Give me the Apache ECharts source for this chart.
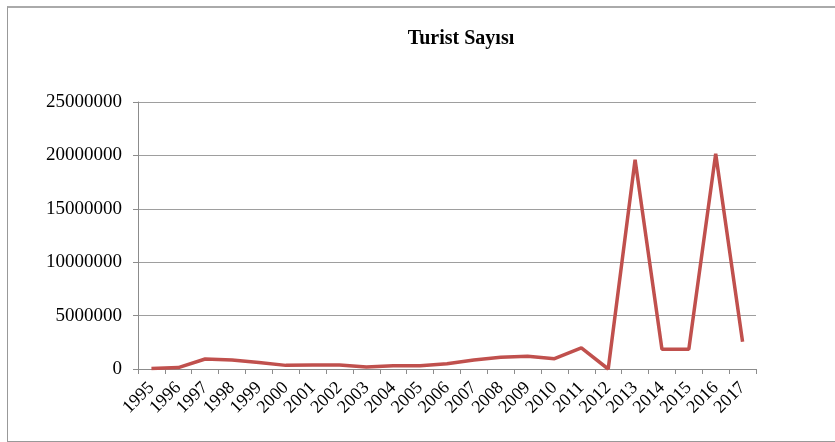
<!DOCTYPE html>
<html>
<head>
<meta charset="utf-8">
<script src="https://cdn.jsdelivr.net/npm/echarts@6/dist/echarts.min.js"></script>
<style>
  html, body { margin: 0; padding: 0; background: #fff; }
  #frame {
    position: absolute; left: 7px; top: 6px; width: 840px; height: 433px;
    border-top: 2px solid #aaa; border-left: 1px solid #999; border-bottom: 1px solid #999;
  }
  #chart { position: absolute; left: 0; top: 0; width: 835px; height: 442px; }
</style>
</head>
<body>
<div id="frame"></div>
<div id="chart"></div>
<script>
  // yıllar
  var years = ['1995', '1996', '1997', '1998', '1999', '2000', '2001', '2002', '2003', '2004', '2005', '2006',
    '2007', '2008', '2009', '2010', '2011', '2012', '2013', '2014', '2015', '2016', '2017'];
  // turist sayısı (resimden okunan tahmini değerler)
  var touristCount = [50000, 130000, 940000, 840000, 600000, 340000, 370000, 370000, 190000, 300000, 300000, 500000,
    850000, 1100000, 1200000, 970000, 1970000, 0, 19600000, 1850000, 1850000, 20150000, 2560000];
  var yTicks = [0, 5000000, 10000000, 15000000, 20000000, 25000000];

  var myChart = echarts.init(document.getElementById('chart'));
  var font = '"Liberation Serif", "Times New Roman", serif';
  var option = {
    animation: false,
    title: {
      text: 'Turist Sayısı',
      left: 456,
      top: 24,
      textAlign: 'center',
      textStyle: { fontFamily: font, fontSize: 20, fontWeight: 'bold', color: '#000' }
    },
    grid: { left: 138, right: 79, top: 102, bottom: 73 },
    xAxis: {
      type: 'category',
      data: years,
      boundaryGap: true,
      axisLine: { lineStyle: { color: '#8c8c8c', width: 1 } },
      axisTick: { show: true, length: 5, lineStyle: { color: '#8c8c8c' } },
      axisLabel: {
        interval: 0,
        rotate: 45,
        margin: 16,
        fontFamily: font,
        fontSize: 18,
        color: '#000'
      }
    },
    yAxis: {
      type: 'value',
      min: yTicks[0],
      max: yTicks[yTicks.length - 1],
      interval: yTicks[1] - yTicks[0],
      axisLine: { show: true, lineStyle: { color: '#8c8c8c', width: 1 } },
      axisTick: { show: true, length: 5, lineStyle: { color: '#8c8c8c' } },
      splitLine: { lineStyle: { color: '#9e9e9e', width: 1 } },
      axisLabel: {
        margin: 16,
        fontFamily: font,
        fontSize: 19,
        color: '#000',
        formatter: function (v) { return String(v); }
      }
    },
    series: [
      {
        name: 'Turist Sayısı',
        type: 'line',
        data: touristCount,
        symbol: 'none',
        lineStyle: { color: '#c0504d', width: 3.5 },
        itemStyle: { color: '#c0504d' }
      }
    ]
  };
  option && myChart.setOption(option);
</script>
</body>
</html>
